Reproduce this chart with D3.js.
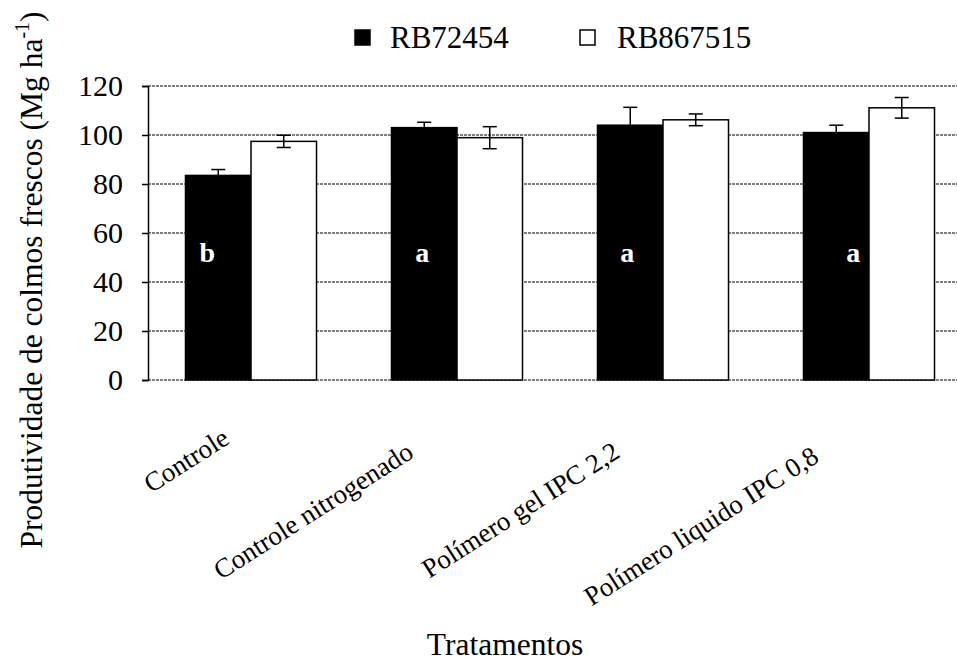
<!DOCTYPE html>
<html>
<head>
<meta charset="utf-8">
<script src="https://cdn.jsdelivr.net/npm/d3@7"></script>
<style>
  body { margin: 0; background: #fff; }
  svg text { font-family: 'Liberation Serif', 'Times New Roman', serif; }
</style>
</head>
<body>
<div id="chart"></div>
<script>
const categories = ['Controle', 'Controle nitrogenado', 'Polímero gel IPC 2,2', 'Polímero liquido IPC 0,8']
const seriesNames = ['RB72454', 'RB867515']
const rb72454 = [83.5, 103, 104, 101]
const rb72454Err = [2.4, 2.2, 7.3, 3]
const rb867515 = [97.4, 98.9, 106.2, 111.1]
const rb867515Err = [2.5, 4.5, 2.4, 4.2]
const letters = ['b', 'a', 'a', 'a']
const yTicks = [0, 20, 40, 60, 80, 100, 120]

// manual nudges of the letters, like the text boxes in the original
const letterDx = [-11, -2, -3, 17]

const width = 957
const height = 661
const serif = "'Liberation Serif', 'Times New Roman', serif"

const svg = d3.select('#chart').append('svg')
  .attr('width', width)
  .attr('height', height)
  .attr('font-family', serif)

const x = d3.scaleBand()
  .domain(categories)
  .range([148, 972])
  .paddingInner(0.364)
  .paddingOuter(0.182)

const xSub = d3.scaleBand()
  .domain(seriesNames)
  .range([0, x.bandwidth()])

const y = d3.scaleLinear()
  .domain([0, 120])
  .range([380, 86])

const rows = categories.map((c, i) => ({
  category: c,
  letter: letters[i],
  values: [
    {series: seriesNames[0], value: rb72454[i], err: rb72454Err[i], fill: '#000'},
    {series: seriesNames[1], value: rb867515[i], err: rb867515Err[i], fill: '#fff'}
  ]
}))

// gridlines
svg.append('g')
  .selectAll('line')
  .data(yTicks)
  .enter()
  .append('line')
  .attr('x1', 148).attr('x2', width)
  .attr('y1', d => y(d)).attr('y2', d => y(d))
  .attr('stroke', '#000')
  .attr('stroke-width', 1)
  .attr('stroke-dasharray', '3,1')

// bars
const groups = svg.append('g')
  .selectAll('g')
  .data(rows)
  .enter()
  .append('g')
  .attr('transform', d => `translate(${x(d.category)},0)`)

groups.selectAll('rect')
  .data(d => d.values)
  .enter()
  .append('rect')
  .attr('x', d => xSub(d.series))
  .attr('y', d => y(d.value))
  .attr('width', xSub.bandwidth())
  .attr('height', d => y(0) - y(d.value))
  .attr('fill', d => d.fill)
  .attr('stroke', '#000')
  .attr('stroke-width', 1.5)

// error bars
const err = groups.selectAll('g.err')
  .data(d => d.values)
  .enter()
  .append('g')
  .attr('class', 'err')
  .attr('transform', d => `translate(${xSub(d.series) + xSub.bandwidth() / 2},0)`)
  .attr('stroke', '#000')
  .attr('stroke-width', 1.5)

err.append('line')
  .attr('y1', d => y(d.value + d.err))
  .attr('y2', d => y(d.value - d.err))
err.append('line')
  .attr('x1', -7).attr('x2', 7)
  .attr('y1', d => y(d.value + d.err)).attr('y2', d => y(d.value + d.err))
err.append('line')
  .attr('x1', -7).attr('x2', 7)
  .attr('y1', d => y(d.value - d.err)).attr('y2', d => y(d.value - d.err))

// significance letters
groups.append('text')
  .attr('x', (d, i) => xSub(seriesNames[0]) + xSub.bandwidth() / 2 + letterDx[i])
  .attr('y', 262)
  .attr('text-anchor', 'middle')
  .attr('fill', '#fff')
  .attr('font-weight', 'bold')
  .attr('font-size', 28)
  .text(d => d.letter)

// y axis
const yAxis = svg.append('g')
  .attr('transform', 'translate(148,0)')
  .call(d3.axisLeft(y).tickValues(yTicks).tickSize(6).tickPadding(19))
yAxis.attr('font-family', serif)
yAxis.select('.domain').attr('stroke', '#000').attr('stroke-width', 1.5)
yAxis.selectAll('.tick line').attr('stroke', '#000').attr('stroke-width', 1.5)
yAxis.selectAll('.tick text')
  .attr('font-size', 30)
  .attr('fill', '#000')

// category labels
const angle = -32.5
svg.append('g')
  .selectAll('text')
  .data(categories)
  .enter()
  .append('text')
  .attr('text-anchor', 'end')
  .attr('font-size', 27)
  .text(d => d)
  .each(function (d) {
    const len = this.getComputedTextLength()
    const cx = x(d) + x.bandwidth() / 2 - 5
    d3.select(this)
      .attr('transform', `translate(${cx},433) rotate(${angle}) translate(${-0.19 * len},0)`)
  })

// axis titles
svg.append('text')
  .attr('x', 505)
  .attr('y', 655)
  .attr('text-anchor', 'middle')
  .attr('font-size', 31.5)
  .text('Tratamentos')

const yTitle = svg.append('text')
  .attr('transform', 'translate(42,280) rotate(-90)')
  .attr('text-anchor', 'middle')
  .attr('font-size', 31.5)
yTitle.append('tspan').text('Produtividade de colmos frescos (Mg ha')
yTitle.append('tspan').attr('font-size', 20).attr('dy', -13).text('-1')
yTitle.append('tspan').attr('dy', 13).text(')')

// legend
const legend = svg.append('g')
  .selectAll('g')
  .data(seriesNames)
  .enter()
  .append('g')
  .attr('transform', (d, i) => `translate(${[355, 580][i]},30)`)

legend.append('rect')
  .attr('width', 15).attr('height', 15)
  .attr('fill', (d, i) => i === 0 ? '#000' : '#fff')
  .attr('stroke', '#000')
  .attr('stroke-width', 1.5)

legend.append('text')
  .attr('x', (d, i) => [35, 37][i])
  .attr('y', 18)
  .attr('font-size', 31)
  .text(d => d)
</script>
</body>
</html>
